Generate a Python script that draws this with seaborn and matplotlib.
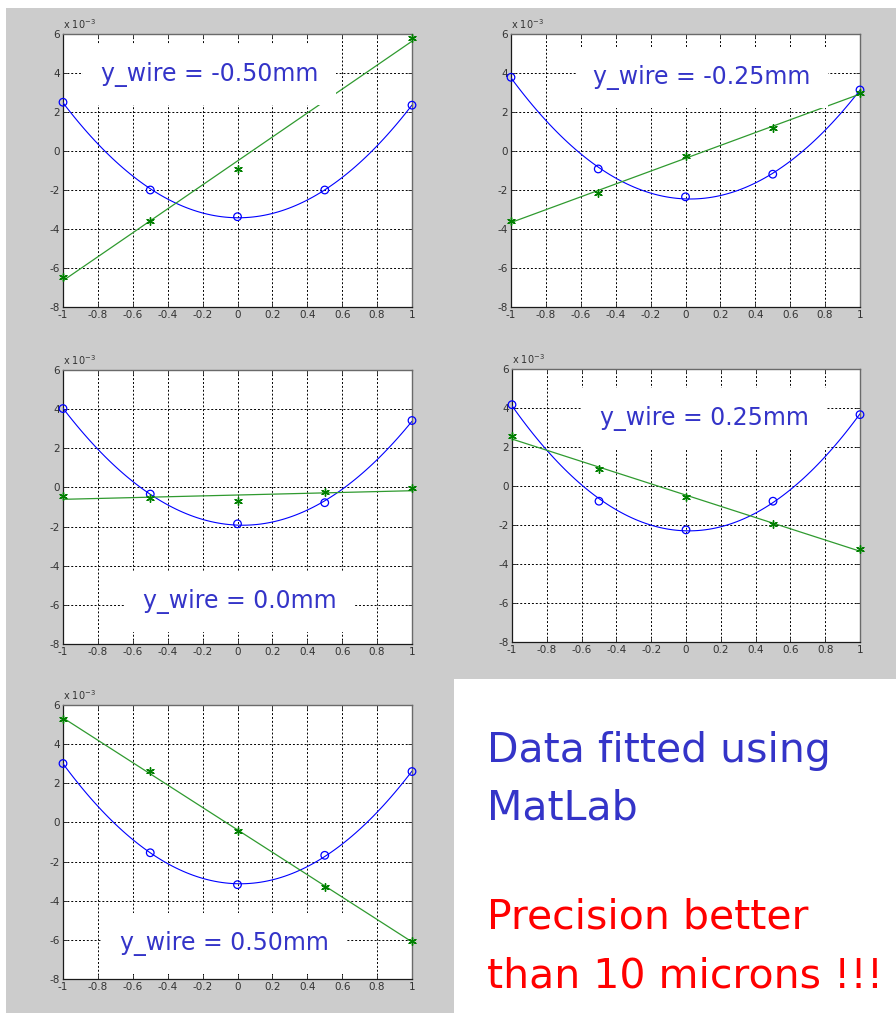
import numpy as np
import pandas as pd
import matplotlib
matplotlib.use("Agg")
import matplotlib.pyplot as plt
from matplotlib.patches import Rectangle
import seaborn as sns

# ---------------- data (units of 1e-3) ----------------
x_pos = [-1.0, -0.5, 0.0, 0.5, 1.0]
panel_labels = ["y_wire = -0.50mm", "y_wire = -0.25mm", "y_wire = 0.0mm",
                "y_wire = 0.25mm", "y_wire = 0.50mm"]
circle_m050 = [2.50, -2.00, -3.37, -2.00, 2.35]
star_m050 = [-6.45, -3.60, -0.90, 2.60, 5.80]
circle_m025 = [3.78, -0.92, -2.35, -1.19, 3.13]
star_m025 = [-3.61, -2.16, -0.24, 1.19, 2.95]
circle_000 = [4.03, -0.34, -1.86, -0.78, 3.42]
star_000 = [-0.44, -0.53, -0.69, -0.25, -0.03]
circle_p025 = [4.17, -0.78, -2.25, -0.78, 3.66]
star_p025 = [2.56, 0.85, -0.56, -1.97, -3.22]
circle_p050 = [3.01, -1.55, -3.18, -1.68, 2.60]
star_p050 = [5.28, 2.62, -0.44, -3.28, -6.08]

y_ticks = [-8, -6, -4, -2, 0, 2, 4, 6]
x_ticks = [-1.0, -0.8, -0.6, -0.4, -0.2, 0.0, 0.2, 0.4, 0.6, 0.8, 1.0]
x_tick_labels = ["-1", "-0.8", "-0.6", "-0.4", "-0.2", "0", "0.2", "0.4", "0.6", "0.8", "1"]
y_tick_labels = ["-8", "-6", "-4", "-2", "0", "2", "4", "6"]
exponent_label = r"x 10$^{-3}$"
note_blue = ["Data fitted using", "MatLab"]
note_red = ["Precision better", "than 10 microns !!!"]

circles = [circle_m050, circle_m025, circle_000, circle_p025, circle_p050]
stars = [star_m050, star_m025, star_000, star_p025, star_p050]

# ---------------- style ----------------
sns.set_style("white")
plt.rcParams["font.family"] = ["DejaVu Sans"]
plt.rcParams["axes.unicode_minus"] = False

W, H = 896, 1013
fig = plt.figure(figsize=(W / 100, H / 100), dpi=100)
fig.patch.set_facecolor("white")

# grey backdrop and white note box
fig.patches.append(Rectangle((6 / W, 0), 1 - 6 / W, 1 - 8 / H, transform=fig.transFigure,
                             facecolor="#cccccc", edgecolor="none", zorder=-10))
fig.patches.append(Rectangle((454 / W, 0), 1 - 454 / W, (H - 679) / H, transform=fig.transFigure,
                             facecolor="white", edgecolor="none", zorder=-9))

# axes boxes in pixel coords: left, top, right, bottom
boxes = [(63, 34, 412, 307), (511, 34, 860, 307), (63, 370, 412, 644),
         (512, 369, 860, 642), (63, 705, 412, 979)]
label_pos = [(-0.16, 3.9), (0.095, 3.77), (0.014, -5.83), (0.106, 3.46), (-0.077, -6.19)]

BLUE_TXT = "#3434c8"

for i, (l, t, r, b) in enumerate(boxes):
    ax = fig.add_axes([l / W, 1 - b / H, (r - l) / W, (b - t) / H])
    ax.set_facecolor("white")
    df = pd.DataFrame({"x": x_pos, "circ": circles[i], "star": stars[i]})
    sns.regplot(data=df, x="x", y="circ", order=2, ci=None, ax=ax, color="blue",
                marker="o",
                scatter_kws=dict(facecolors="none", s=30, linewidths=0.9, alpha=1, zorder=4,
                                 clip_on=False),
                line_kws=dict(lw=0.8, zorder=3))
    sns.regplot(data=df, x="x", y="star", order=1, ci=None, ax=ax, color="#008000",
                marker=(6, 2, 0),
                scatter_kws=dict(s=30, linewidths=1.0, alpha=1, zorder=4, clip_on=False),
                line_kws=dict(lw=0.9, color="#2f9a2f", zorder=3))
    ax.set_xlim(-1, 1)
    ax.set_ylim(-8, 6)
    ax.set_xticks(x_ticks)
    ax.set_xticklabels(x_tick_labels)
    ax.set_yticks(y_ticks)
    ax.set_yticklabels(y_tick_labels)
    ax.set_xlabel("")
    ax.set_ylabel("")
    ax.grid(True, color="black", linestyle=(0, (2, 2)), linewidth=0.7)
    ax.set_axisbelow(True)
    ax.tick_params(direction="in", length=3, width=0.7, labelsize=7.5, colors="#333333",
                   pad=2, top=True, right=True, bottom=True, left=True)
    for side in ["left", "bottom"]:
        ax.spines[side].set_color("#1a1a1a")
        ax.spines[side].set_linewidth(0.9)
    for side in ["top", "right"]:
        ax.spines[side].set_color("#6a6a6a")
        ax.spines[side].set_linewidth(1.0)
    ax.text(0.0, 1.012, exponent_label, transform=ax.transAxes, fontsize=7,
            color="#333333", ha="left", va="bottom")
    tx, ty = label_pos[i]
    ax.text(tx, ty, panel_labels[i], fontsize=17, color=BLUE_TXT, ha="center", va="center",
            zorder=10,
            bbox=dict(boxstyle="square,pad=0.75", facecolor="white", edgecolor="none"))

# notes in the bottom-right box
NOTE_FS = 29.5
fig.text(487 / W, 1 - 762 / H, note_blue[0], fontsize=NOTE_FS, color=BLUE_TXT, va="baseline", ha="left")
fig.text(487 / W, 1 - 820 / H, note_blue[1], fontsize=NOTE_FS, color=BLUE_TXT, va="baseline", ha="left")
fig.text(487 / W, 1 - 928 / H, note_red[0], fontsize=NOTE_FS, color="#ff0000", va="baseline", ha="left")
fig.text(487 / W, 1 - 987 / H, note_red[1], fontsize=NOTE_FS, color="#ff0000", va="baseline", ha="left")

fig.savefig("out.png", dpi=100, facecolor=fig.get_facecolor())
